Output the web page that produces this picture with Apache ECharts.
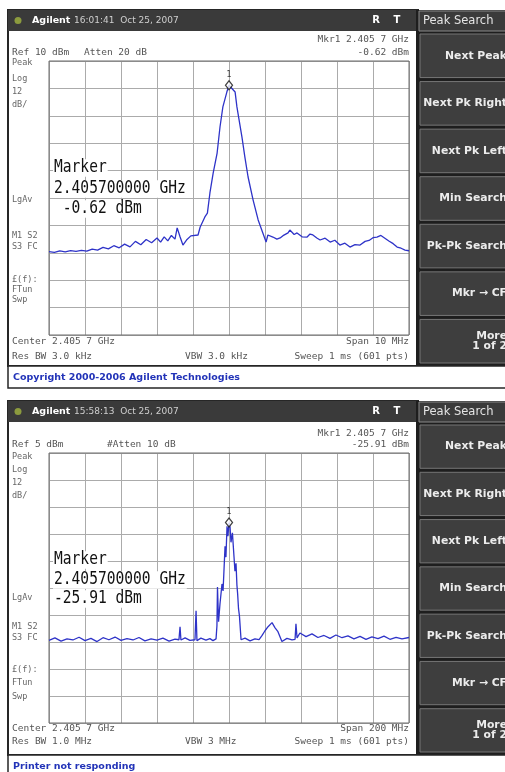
<!DOCTYPE html>
<html><head><meta charset="utf-8">
<script src="https://cdn.jsdelivr.net/npm/echarts@6/dist/echarts.min.js"></script>
<style>html,body{margin:0;padding:0;background:#fff;overflow:hidden}#c{width:505px;height:772px}</style>
</head><body><div id="c"></div>
<script>
// ---------- DATA ----------
// Upper screen: Ref 10 dBm, 12 dB/div, span 10 MHz, marker 2.405700000 GHz / -0.62 dBm
const topRefDbm = 10;
const topDbPerDiv = 12;
const topSpanMHz = 10;
const topFreqOffsetMHz = [-5.00,-4.85,-4.70,-4.55,-4.40,-4.25,-4.10,-3.95,-3.80,-3.65,-3.50,-3.35,-3.20,-3.05,-2.90,-2.75,-2.60,-2.45,-2.30,-2.15,-2.00,-1.90,-1.80,-1.70,-1.60,-1.50,-1.44,-1.36,-1.28,-1.18,-1.06,-0.86,-0.80,-0.67,-0.60,-0.53,-0.44,-0.33,-0.25,-0.17,-0.06,0.00,0.17,0.22,0.28,0.36,0.44,0.53,0.67,0.81,0.94,1.03,1.08,1.22,1.33,1.42,1.50,1.64,1.69,1.81,1.89,2.03,2.17,2.25,2.33,2.44,2.53,2.67,2.81,2.94,3.08,3.22,3.36,3.50,3.64,3.78,3.89,4.00,4.11,4.22,4.33,4.44,4.56,4.67,4.78,4.89,5.00];
const topLevelDbm = [-73.5,-73.8,-73.2,-73.6,-73.0,-73.4,-72.9,-73.3,-72.4,-72.8,-71.6,-72.3,-70.9,-71.8,-70.2,-71.4,-69.0,-70.5,-68.2,-69.6,-67.5,-69.3,-67.0,-68.8,-66.4,-68.0,-63.1,-67.0,-70.6,-68.4,-66.6,-66.2,-62.7,-58.3,-56.6,-47.8,-39.1,-30.3,-18.9,-10.1,-3.6,-0.62,-3.6,-10.1,-15.8,-23.3,-32.0,-40.8,-50.9,-59.6,-65.3,-69.3,-66.2,-67.1,-68.0,-67.5,-66.5,-65.3,-64.0,-66.0,-65.3,-67.0,-67.1,-65.8,-66.2,-67.5,-68.4,-67.6,-69.3,-68.5,-70.6,-69.8,-71.5,-70.4,-70.6,-69.0,-68.6,-67.4,-67.1,-66.4,-67.6,-68.8,-70.0,-71.5,-72.0,-72.8,-73.1];
const topMarker = [0, -0.62];

// Lower screen: Ref 5 dBm, 12 dB/div, span 200 MHz, marker 2.405700000 GHz / -25.91 dBm
const botRefDbm = 5;
const botDbPerDiv = 12;
const botSpanMHz = 200;
const botFreqOffsetMHz = [-100,-96.7,-93.3,-90,-86.7,-83.3,-80,-76.7,-73.3,-70,-66.7,-63.3,-60,-56.7,-53.3,-50,-46.7,-43.3,-40,-36.7,-33.3,-30,-27.8,-27.2,-26.7,-24.4,-21.7,-18.9,-18.3,-17.8,-15.6,-12.8,-10.6,-8.9,-7.2,-6.7,-6.4,-5.8,-5.0,-3.9,-3.3,-2.2,-1.7,-1.1,-0.6,0,0.6,1.1,1.9,2.8,3.3,3.9,4.4,4.8,5.3,5.8,6.7,8.9,11.7,14.4,16.7,18.3,20,21.7,23.9,25.6,27.2,29.4,32.2,35,36.7,37.2,37.8,39.4,42.8,46.1,49.4,52.8,56.1,59.4,62.8,66.1,69.4,72.8,76.1,79.4,82.8,86.1,89.4,92.8,96.1,100];
const botLevelDbm = [-78.3,-77.2,-78.6,-77.6,-78.1,-76.9,-78.4,-77.4,-78.8,-77.1,-78.0,-76.8,-78.3,-77.5,-78.1,-77.0,-78.5,-77.6,-78.2,-77.3,-78.6,-77.7,-78.0,-72.2,-78.1,-77.2,-78.3,-78.0,-65.1,-78.4,-77.3,-78.2,-77.5,-78.4,-77.6,-71.8,-54.6,-70.0,-62.0,-53.2,-56.3,-36.5,-41.3,-27.6,-32.0,-25.91,-28.1,-34.7,-30.5,-41.3,-47.5,-44.0,-53.7,-57.6,-64.3,-67.4,-78.0,-77.3,-78.5,-77.6,-77.9,-76.2,-74.0,-72.2,-70.4,-72.7,-74.4,-78.8,-77.4,-78.1,-77.8,-70.9,-77.2,-75.0,-76.6,-75.4,-77.0,-76.1,-77.4,-75.9,-77.1,-76.3,-77.6,-76.5,-77.8,-76.7,-77.5,-76.4,-77.8,-76.9,-77.6,-77.0];
const botMarker = [0, -25.91];

// Texts
const softKeys = ['Next Peak','Next Pk Right','Next Pk Left','Min Search','Pk-Pk Search','Mkr \u2192 CF','More\n1 of 2'];
const topHeader = ['16:01:41  Oct 25, 2007','Ref 10 dBm','Atten 20 dB','Mkr1 2.405 7 GHz','-0.62 dBm'];
const botHeader = ['15:58:13  Oct 25, 2007','Ref 5 dBm','#Atten 10 dB','Mkr1 2.405 7 GHz','-25.91 dBm'];
const topLeftLabels = ['Peak','Log','12','dB/','LgAv','M1 S2','S3 FC','\u00a3(f):','FTun','Swp'];
const botLeftLabels = ['Peak','Log','12','dB/','LgAv','M1 S2','S3 FC','\u00a3(f):','FTun','Swp'];
const topFooter = ['Center 2.405 7 GHz','Span 10 MHz','Res BW 3.0 kHz','VBW 3.0 kHz','Sweep 1 ms (601 pts)'];
const botFooter = ['Center 2.405 7 GHz','Span 200 MHz','Res BW 1.0 MHz','VBW 3 MHz','Sweep 1 ms (601 pts)'];
const topMarkerText = ['Marker','2.405700000 GHz',' -0.62 dBm'];
const botMarkerText = ['Marker','2.405700000 GHz','-25.91 dBm'];
const statusText = ['Copyright 2000-2006 Agilent Technologies','Printer not responding'];

// ---------- BUILD ----------
const G = [];
const MONO = '"DejaVu Sans Mono"';
const SANS = '"DejaVu Sans"';
function rect(x,y,w,h,style,z){ G.push({type:'rect', z:z, shape:{x:x,y:y,width:w,height:h}, style:style}); }
function txt(x,y,text,o){ o=o||{}; G.push({type:'text', x:x, y:y, z:(o.z==null?6:o.z), scaleY:o.sy||1,
  style:{text:text, x:0, y:0, fill:o.c||'#555', font:o.f||('9.5px '+MONO), align:o.a||'left', verticalAlign:'middle',
  backgroundColor:o.bg, padding:o.pad, lineHeight:o.lh}}); }

function panel(P){
  const t=P.t, b=P.b;
  rect(8,t,410,b-t,{fill:'#fff',stroke:'#262626',lineWidth:2},-5);
  rect(8,t,410,21,{fill:'#3a3a3a'},-4);
  G.push({type:'circle', z:-3, shape:{cx:18,cy:t+10.5,r:3.5}, style:{fill:'#8c9b3e'}});
  txt(32,t+10.5,'Agilent',{c:'#fff',f:'bold 9.5px '+SANS});
  txt(74,t+10.5,P.head[0],{c:'#cfcfcf',f:'9px '+SANS});
  txt(376,t+10.5,'R',{c:'#fff',f:'bold 10px '+SANS,a:'center'});
  txt(397,t+10.5,'T',{c:'#fff',f:'bold 10px '+SANS,a:'center'});
  // header
  txt(12,P.refY,P.head[1]);
  txt(P.attX,P.refY,P.head[2]);
  txt(409,P.mkrY,P.head[3],{a:'right'});
  txt(409,P.refY,P.head[4],{a:'right'});
  // left labels
  P.left.forEach((s,i)=>txt(12,P.leftY[i],s,{f:'8.5px '+MONO,c:'#666'}));
  // footer
  txt(12,P.f1,P.foot[0]); txt(409,P.f1,P.foot[1],{a:'right'});
  txt(12,P.f2,P.foot[2]); txt(185,P.f2,P.foot[3]); txt(409,P.f2,P.foot[4],{a:'right'});
  // marker readout
  P.mt.forEach((s,i)=>txt(53,P.mtY[i],s,{c:'#111',f:'14.6px '+MONO,sy:1.18,bg:'#fff',pad:[0,1],z:5}));
  // softkeys
  rect(416,t,92,b-t,{fill:'#1e1e1e'},-4);
  rect(419,t+1,88,20,{fill:'#3b3b3b',stroke:'#8a8a8a',lineWidth:1},-3);
  txt(423,t+11,'Peak Search',{c:'#e4e4e4',f:'11.5px '+SANS});
  const k0=t+23, pitch=(b-k0)/7;
  softKeys.forEach((s,i)=>{
    const ky=k0+i*pitch;
    rect(420,ky+1,90,pitch-4,{fill:'#3e3e3e',stroke:'#767676',lineWidth:1},-3);
    const lines=s.split('\n');
    lines.forEach((ln,j)=>txt(507,ky+pitch/2-1+(j-(lines.length-1)/2)*10,ln,{c:'#ececec',f:'bold 10.8px '+SANS,a:'right'}));
  });
  // status bar
  rect(8,b,500,22,{fill:'#fff',stroke:'#262626',lineWidth:1.5},-4);
  txt(13,b+11.5,P.status,{c:'#2233b8',f:'bold 9.5px '+SANS});
}

panel({t:10,b:366,head:topHeader,refY:53,mkrY:40,attX:84,left:topLeftLabels,
  leftY:[63,79,92,105,200,236,247,280,290,300],foot:topFooter,f1:342,f2:357,
  mt:topMarkerText,mtY:[168,189,209],status:statusText[0]});
panel({t:401,b:755,head:botHeader,refY:445,mkrY:434,attX:107,left:botLeftLabels,
  leftY:[457,470,483,496,598,627,638,670,683,697],foot:botFooter,f1:729,f2:742,
  mt:botMarkerText,mtY:[560,580,599],status:statusText[1]});

const grids=[{top:61,height:274},{top:453,height:270}].map(g=>({left:49,width:360,top:g.top,height:g.height,
  show:true,backgroundColor:'transparent',borderColor:'#6c6c6c',borderWidth:1,z:1}));
const split={show:true,lineStyle:{color:'#ababab',width:1}};
function xAx(i,span){return {type:'value',gridIndex:i,min:-span/2,max:span/2,interval:span/10,axisLine:{show:false},axisTick:{show:false},axisLabel:{show:false},splitLine:split};}
function yAx(i,d){return {type:'value',gridIndex:i,min:-10*d,max:0,interval:d,axisLine:{show:false},axisTick:{show:false},axisLabel:{show:false},splitLine:split};}

const topData = topFreqOffsetMHz.map((f,i)=>[f, topLevelDbm[i]-topRefDbm]);
const botData = botFreqOffsetMHz.map((f,i)=>[f, botLevelDbm[i]-botRefDbm]);
const traceStyle={color:'#2e33c8',width:1.3};
function mk(i,m,ref){return {type:'scatter',xAxisIndex:i,yAxisIndex:i,z:7,data:[[m[0],m[1]-ref]],symbol:'diamond',symbolSize:[7,9],
  itemStyle:{color:'#fff',borderColor:'#111',borderWidth:1.3},label:{show:true,position:'top',distance:1,formatter:'1',fontSize:8,color:'#111',fontFamily:'DejaVu Sans'}};}

const chart=echarts.init(document.getElementById('c'));
chart.setOption({
  animation:false,
  backgroundColor:'#fff',
  grid:grids,
  xAxis:[xAx(0,topSpanMHz),xAx(1,botSpanMHz)],
  yAxis:[yAx(0,topDbPerDiv),yAx(1,botDbPerDiv)],
  series:[
    {type:'line',xAxisIndex:0,yAxisIndex:0,data:topData,showSymbol:false,lineStyle:traceStyle,z:4},
    {type:'line',xAxisIndex:1,yAxisIndex:1,data:botData,showSymbol:false,lineStyle:traceStyle,z:4},
    mk(0,topMarker,topRefDbm),
    mk(1,botMarker,botRefDbm)
  ],
  graphic:G
});
</script></body></html>
